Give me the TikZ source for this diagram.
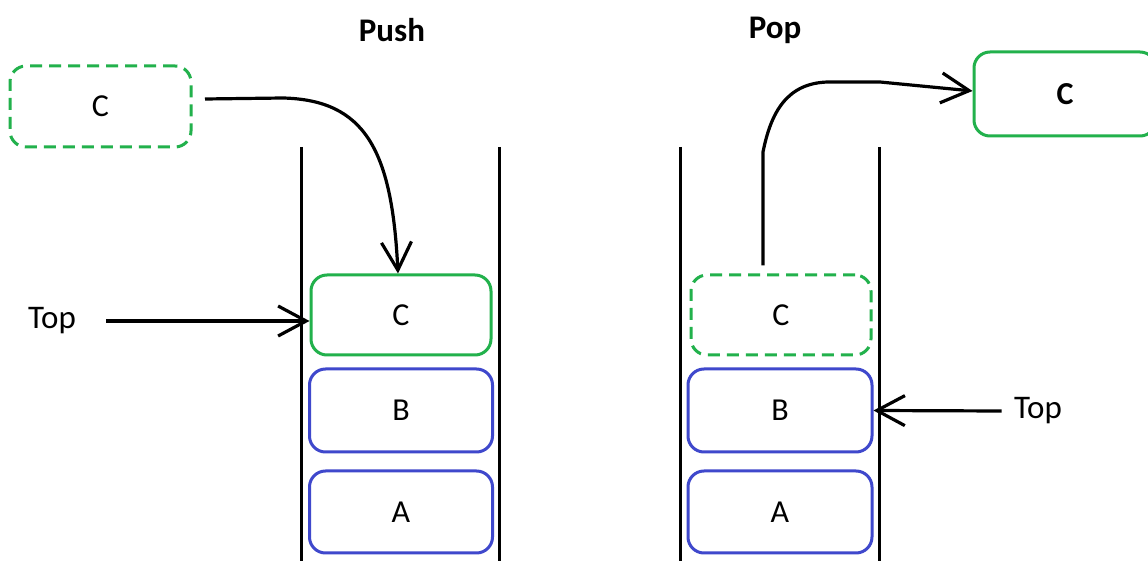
\documentclass[tikz,border=0pt]{standalone}
\usepackage{fontspec}
\setmainfont{Carlito}
\usetikzlibrary{arrows.meta,calc}
\definecolor{pgreen}{HTML}{22B14C}
\definecolor{pblue}{HTML}{3F48CC}
\tikzset{
  box/.style={draw, line width=1.5pt, rounded corners=8pt, minimum width=90pt, minimum height=40pt, inner sep=0pt, font=\fontsize{16}{19}\selectfont},
  greenbox/.style={box, draw=pgreen},
  dashbox/.style={box, draw=pgreen, dash pattern=on 6pt off 3.5pt},
  bluebox/.style={box, draw=pblue},
  wall/.style={line width=1.5pt},
  arr/.style={line width=1.6pt, -{Straight Barb[length=14pt,width=15pt]}},
  lbl/.style={inner sep=0pt, font=\fontsize{16.5}{20}\selectfont},
  ttl/.style={inner sep=0pt, font=\fontsize{16.5}{20}\selectfont\bfseries}
}
\begin{document}
\begin{tikzpicture}[x=0.5pt,y=-0.5pt]
\clip (0,0) rectangle (1148,561);
\fill[white] (0,0) rectangle (1148,561);
% titles
\node[ttl] (push) at (392,30) {Push};
\node[ttl] (pop) at (775,30) {Pop};
% walls
\draw[wall] (301,147) -- (301,561);
\draw[wall] (499,147) -- (499,561);
\draw[wall] (680,147) -- (680,561);
\draw[wall] (879,147) -- (879,561);
% push side
\node[dashbox, minimum width=90.5pt, minimum height=40.5pt] (srcC) at (100.5,106.5) {C};
\node[greenbox] (pushC) at (401,315) {C};
\node[bluebox, minimum width=91.5pt, minimum height=41.5pt] (pushB) at (401,410.5) {B};
\node[bluebox, minimum width=91.5pt, minimum height=41pt] (pushA) at (401,512) {A};
\node[lbl] (topL) at (52,321) {Top};
% pop side
\node[dashbox] (popC) at (781,315) {C};
\node[bluebox, minimum width=92pt, minimum height=41.5pt] (popB) at (780,410.5) {B};
\node[bluebox, minimum width=92pt, minimum height=41pt] (popA) at (780,512) {A};
\node[greenbox, minimum width=91pt, minimum height=42pt, font=\fontsize{16}{19}\selectfont\bfseries] (outC) at (1065,94) {C};
\node[lbl] (topR) at (1038,411) {Top};
% arrows
\coordinate (pushStart) at (205,99);
\coordinate (topLStart) at ($(topL.east)+(30,0)$);
\draw[arr] (pushStart) -- (283,98) .. controls (365,100) and (392,150) .. ($(pushC.north)+(-3,0)$);
\draw[arr] (topLStart) -- (topLStart -| pushC.west);
\draw[arr] ($(popC.north)+(-18,-8)$) -- (763,152) .. controls (771,112) and (787,83) .. (828,82) -- (880,82) -- ($(outC.west)+(0,-3)$);
\draw[arr] ($(topR.west)+(-12,0)$) -- (popB.east);
\end{tikzpicture}
\end{document}
